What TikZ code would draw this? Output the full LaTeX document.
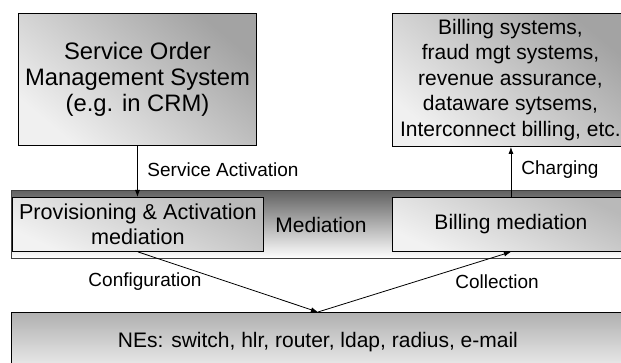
\documentclass[tikz,border=0pt]{standalone}
\usepackage{fontspec}
\setmainfont{Liberation Sans}
\usetikzlibrary{arrows.meta}
\begin{document}
\begin{tikzpicture}[x=1pt,y=-1pt,
  boxfont/.style={font=\fontsize{21}{25.5}\selectfont},
  bigfont/.style={font=\fontsize{23.8}{26}\selectfont},
  lblfont/.style={font=\fontsize{19}{23}\selectfont},
  bigbox/.style={draw=black,line width=0.9pt,anchor=north west,inner sep=0pt,align=center,boxfont,
     top color=gray!72,bottom color=gray!12,shading angle=-40},
  medbox/.style={draw=black,line width=0.9pt,anchor=north west,inner sep=0pt,align=center,boxfont,
     top color=gray!55,bottom color=gray!10,shading angle=-25},
  band/.style={draw=black!75,line width=0.6pt,anchor=north west,inner sep=0pt,
     top color=black!62,bottom color=white},
  nebox/.style={draw=black,line width=0.9pt,anchor=north west,inner sep=0pt,align=center,boxfont,
     top color=gray!62,bottom color=gray!12},
  conn/.style={line width=0.8pt,-{Latex[length=7pt,width=5pt]}},
  lbl/.style={lblfont,inner sep=0pt}]
\useasboundingbox (0,0) rectangle (621,363);
\clip (0,0) rectangle (621,363);
% boxes
\node[bigbox,bigfont,minimum width=238pt,minimum height=132pt] (soms) at (18,13)
  {Service Order\\Management System\\(e.g. in CRM)};
\node[bigbox,minimum width=236pt,minimum height=133pt] (bill) at (392,13)
  {Billing systems,\\fraud mgt systems,\\revenue assurance,\\dataware sytsems,\\Interconnect billing, etc.};
\node[band,minimum width=640pt,minimum height=68pt] (med) at (11,190) {};
\node[medbox,font=\fontsize{21.6}{25.5}\selectfont,minimum width=251pt,minimum height=54pt] (prov) at (12,197)
  {Provisioning \& Activation\\mediation};
\node[medbox,minimum width=237pt,minimum height=54pt] (bmed) at (392,197)
  {Billing mediation};
\node[boxfont,inner sep=0pt] (medl) at (321,225) {Mediation};
\node[nebox,minimum width=613pt,minimum height=60pt] (ne) at (11,312)
  {NEs: switch, hlr, router, ldap, radius, e-mail};
% connectors
\draw[conn] (soms.south) -- (soms.south |- prov.north);
\draw[conn] (bmed.north) -- (bmed.north |- bill.south);
\draw[conn] (prov.south) -- (ne.north);
\draw[conn] (ne.north) -- (bmed.south);
% labels
\node[lbl] (lsa) at (223,170) {Service Activation};
\node[lbl] (lch) at (560,170) {Charging};
\node[lbl] (lcf) at (145,282) {Configuration};
\node[lbl] (lco) at (497,282) {Collection};
\end{tikzpicture}
\end{document}
